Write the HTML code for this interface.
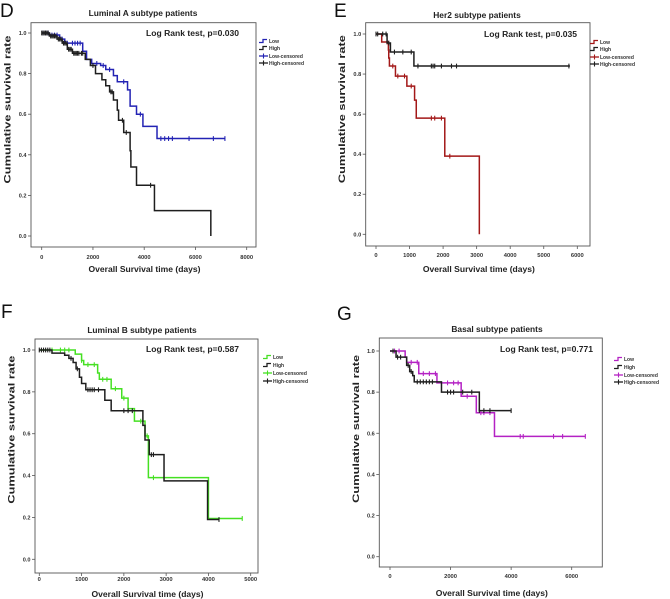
<!DOCTYPE html>
<html><head><meta charset="utf-8">
<style>
html,body{margin:0;padding:0;background:#fff;}
#fig{position:absolute;left:0;top:0;width:670px;height:599px;}
text{font-family:"Liberation Sans",sans-serif;}
</style></head>
<body>
<svg id="fig" width="670" height="599" viewBox="0 0 670 599" xmlns="http://www.w3.org/2000/svg"></svg>
<script>
// ---------- DATA (time in days, survival rate) ----------
const dLowTimes = [0,300,700,900,1600,1750,1950,2300,2500,2800,2950,3350,3450,3700,3950,4500];
const dLowSurv  = [1,0.99,0.97,0.95,0.91,0.87,0.85,0.84,0.82,0.79,0.76,0.72,0.64,0.60,0.54,0.48];
const dLowEnd = 7150;
const dLowCens = [50,150,250,400,500,600,800,1000,1200,1300,1400,1500,2150,2400,2650,3200,3850,4650,4800,4950,5100,5750,6700,7150];
const dHighTimes = [0,300,600,800,1000,1200,1700,1900,2100,2350,2500,2650,2800,2950,3000,3200,3450,3480,3700,4400,6600];
const dHighSurv  = [1,0.985,0.97,0.95,0.92,0.90,0.87,0.84,0.80,0.77,0.74,0.71,0.67,0.62,0.57,0.51,0.42,0.34,0.25,0.125,0];
const dHighEnd = 6600;
const dHighCens = [0,50,100,150,200,250,350,400,450,500,550,650,700,750,850,900,950,1050,1100,1150,1250,1300,1350,1400,1450,1550,1600,2000,2700,2750,3150,3300,4250];

const eLowTimes = [0,170,370,380,400,580,920,1150,1200,2050,3080];
const eLowSurv  = [1,0.96,0.92,0.88,0.84,0.79,0.74,0.67,0.58,0.39,0];
const eLowEnd = 3080;
const eLowCens = [330,500,650,850,1050,1650,1750,1950,2200];
const eHighTimes = [0,330,430,1130];
const eHighSurv  = [1,0.955,0.91,0.84];
const eHighEnd = 5780;
const eHighCens = [0,50,200,300,380,550,800,1050,1250,1650,1700,1750,1950,2250,2400,5750];

const fLowTimes = [0,850,1000,1050,1380,1420,1700,1950,2100,2250,2500,2580,4000];
const fLowSurv  = [1,0.98,0.95,0.93,0.89,0.86,0.815,0.77,0.72,0.66,0.59,0.39,0.195];
const fLowEnd = 4800;
const fLowCens = [300,500,600,700,1000,1150,1300,1500,1600,1800,2000,2400,2550,2700,4800];
const fHighTimes = [0,300,600,700,800,870,950,1000,1100,1550,1700,2450,2500,2600,2950,3980];
const fHighSurv  = [1,0.985,0.975,0.96,0.94,0.91,0.87,0.84,0.81,0.76,0.71,0.64,0.57,0.50,0.375,0.19];
const fHighEnd = 4250;
const fHighCens = [0,50,100,150,200,250,750,900,1150,1200,1250,1300,1400,2000,2100,2200,2650,2700,4250];

const gLowTimes = [0,500,550,950,1550,2350,2850,3450];
const gLowSurv  = [1,0.97,0.945,0.89,0.845,0.78,0.70,0.585];
const gLowEnd = 6450;
const gLowCens = [150,300,700,900,1100,1300,1500,1900,2100,2250,2550,3000,3100,3300,4300,4400,5400,5700,6450];
const gHighTimes = [0,200,550,650,750,800,1700,2950];
const gHighSurv  = [1,0.97,0.93,0.90,0.88,0.85,0.80,0.71];
const gHighEnd = 4000;
const gHighCens = [100,250,350,600,700,900,1000,1100,1200,1300,1400,1900,2000,2100,2400,2700,2950,3100,3300,4000];

const yTickValues = [0,0.2,0.4,0.6,0.8,1.0];
const yTickLabels = ["0.0","0.2","0.4","0.6","0.8","1.0"];
const dXTicks = [0,2000,4000,6000,8000];
const eXTicks = [0,1000,2000,3000,4000,5000,6000];
const fXTicks = [0,1000,2000,3000,4000,5000];
const gXTicks = [0,2000,4000,6000];

// ---------- LAYOUT ----------
const NS = "http://www.w3.org/2000/svg";
const svg = document.getElementById('fig');
function mk(tag, attrs, parent){
  const e = document.createElementNS(NS, tag);
  for (const k in attrs) e.setAttribute(k, attrs[k]);
  (parent||svg).appendChild(e);
  return e;
}
function survAt(times, surv, t){
  let s = surv[0];
  for (let i=0;i<times.length;i++){ if (times[i] <= t) s = surv[i]; }
  return s;
}

const panels = [
  {id:'d', letter:'D', lx:0, ly:17, title:'Luminal A subtype patients', tx:143, ty:16,
   box:[31,22.7,256,247], x0:41.7, x1:246.7, xmax:8000, y1:33, y0:236, xticks:dXTicks,
   pval:'Log Rank test, p=0.030', px:239, py:36, lgx:259, lgy:[41,48,56,63], xt:272, tl:259,
   color:'#2323b4', series:[[dLowTimes,dLowSurv,dLowEnd,dLowCens],[dHighTimes,dHighSurv,dHighEnd,dHighCens]]},
  {id:'e', letter:'E', lx:334, ly:17, title:'Her2 subtype patients', tx:477, ty:18,
   box:[365.7,22.7,590,246], x0:376, x1:577.3, xmax:6000, y1:34, y0:234.3, xticks:eXTicks,
   pval:'Log Rank test, p=0.035', px:577, py:37, lgx:590, lgy:[42,49,57,64], xt:272, tl:257,
   color:'#a31818', series:[[eLowTimes,eLowSurv,eLowEnd,eLowCens],[eHighTimes,eHighSurv,eHighEnd,eHighCens]]},
  {id:'f', letter:'F', lx:1, ly:318, title:'Luminal B subtype patients', tx:142, ty:333,
   box:[35,339,258,573], x0:39.3, x1:250.7, xmax:5000, y1:350, y0:559.3, xticks:fXTicks,
   pval:'Log Rank test, p=0.587', px:239, py:352, lgx:263, lgy:[357,365,373,381], xt:597, tl:581,
   color:'#45e022', series:[[fLowTimes,fLowSurv,fLowEnd,fLowCens],[fHighTimes,fHighSurv,fHighEnd,fHighCens]]},
  {id:'g', letter:'G', lx:337, ly:320, title:'Basal subtype patients', tx:497, ty:332,
   box:[379.3,338,602.3,567], x0:390, x1:571.7, xmax:6000, y1:351, y0:556.7, xticks:gXTicks,
   pval:'Log Rank test, p=0.771', px:593, py:352, lgx:614, lgy:[359,367,375,382], xt:596, tl:578,
   color:'#b422c4', series:[[gLowTimes,gLowSurv,gLowEnd,gLowCens],[gHighTimes,gHighSurv,gHighEnd,gHighCens]]}
];

panels.forEach(p => {
  const g = mk('g', {});
  
  
  const X = t => p.x0 + (t / p.xmax) * (p.x1 - p.x0);
  const Y = s => p.y0 - s * (p.y0 - p.y1);

  const L = mk('text', {x:p.lx, y:p.ly, 'font-size':19, fill:'#111'}, g);
  L.textContent = p.letter;
  
  

  const T = mk('text', {x:p.tx, y:p.ty, 'font-size':8.4, 'font-weight':'bold', 'text-anchor':'middle', fill:'#222'}, g);
  T.textContent = p.title;
  
  

  const b = p.box;
  const R = mk('rect', {x:b[0], y:b[1], width:b[2]-b[0], height:b[3]-b[1], fill:'none', stroke:'#555', 'stroke-width':0.9}, g);
  
  

  yTickValues.forEach((v,i) => {
    const tk = mk('line', {x1:b[0]-3, x2:b[0], y1:Y(v), y2:Y(v), stroke:'#555', 'stroke-width':0.8}, g);
    
    
    const lb = mk('text', {x:b[0]-4.5, y:Y(v)+2, 'font-size':5.6, 'font-weight':'bold', 'text-anchor':'end', fill:'#333'}, g);
    lb.textContent = yTickLabels[i];
    
    
  });
  p.xticks.forEach(v => {
    const tk = mk('line', {x1:X(v), x2:X(v), y1:b[3], y2:b[3]+3, stroke:'#555', 'stroke-width':0.8}, g);
    
    
    const lb = mk('text', {x:X(v), y:p.tl, 'font-size':5.8, 'font-weight':'bold', 'text-anchor':'middle', fill:'#333'}, g);
    lb.textContent = String(v);
    
    
  });

  const xt = mk('text', {x:(b[0]+b[2])/2+1, y:p.xt, 'font-size':8.6, 'font-weight':'bold', 'text-anchor':'middle', fill:'#222', textLength:112, lengthAdjust:'spacingAndGlyphs'}, g);
  xt.textContent = 'Overall Survival time (days)';
  
  
  const cy = (p.y0 + p.y1) / 2 - 25;
  const ytx = b[0] - 20.5;
  const yt = mk('text', {x:ytx, y:cy, 'font-size':8.8, 'font-weight':'bold', 'text-anchor':'middle', fill:'#222', textLength:148, lengthAdjust:'spacingAndGlyphs', transform:'rotate(-90 '+ytx+' '+cy+')'}, g);
  yt.textContent = 'Cumulative survival rate';
  
  

  const pv = mk('text', {x:p.px, y:p.py, 'font-size':7.8, 'font-weight':'bold', 'text-anchor':'end', fill:'#222', textLength:93, lengthAdjust:'spacingAndGlyphs'}, g);
  pv.textContent = p.pval;
  
  

  const cols = [p.color, '#1e1e1e'];
  const names = ['low','high'];
  p.series.forEach((sr, si) => {
    const [times, surv, end, cens] = sr;
    let d = 'M' + X(times[0]) + ' ' + Y(surv[0]);
    for (let i=1;i<times.length;i++) d += ' H' + X(times[i]) + ' V' + Y(surv[i]);
    d += ' H' + X(end);
    const path = mk('path', {d:d, fill:'none', stroke:cols[si], 'stroke-width':1.5}, g);
    
    
    cens.forEach(t => {
      const s = survAt(times, surv, t);
      const cm = mk('line', {x1:X(t), x2:X(t), y1:Y(s)-2.4, y2:Y(s)+2.4, stroke:cols[si], 'stroke-width':1.1}, g);
      
      
    });
  });

  const lgLabels = ['Low','High','Low-censored','High-censored'];
  const lgCols = [p.color, '#1e1e1e', p.color, '#1e1e1e'];
  lgLabels.forEach((lab, i) => {
    const yy = p.lgy[i];
    const lg = mk('g', {}, g);
    
    
    if (i < 2) {
      mk('path', {d:'M'+p.lgx+' '+(yy+1.5)+' H'+(p.lgx+4)+' V'+(yy-1.5)+' H'+(p.lgx+8), fill:'none', stroke:lgCols[i], 'stroke-width':1.3}, lg);
    } else {
      mk('line', {x1:p.lgx, x2:p.lgx+9, y1:yy, y2:yy, stroke:lgCols[i], 'stroke-width':1.3}, lg);
      mk('line', {x1:p.lgx+4.5, x2:p.lgx+4.5, y1:yy-2.5, y2:yy+2.5, stroke:lgCols[i], 'stroke-width':1.1}, lg);
    }
    const tx = mk('text', {x:p.lgx+10, y:yy+2, 'font-size':5, 'font-weight':'bold', fill:'#333'}, lg);
    tx.textContent = lab;
  });
});
</script>
</body></html>
